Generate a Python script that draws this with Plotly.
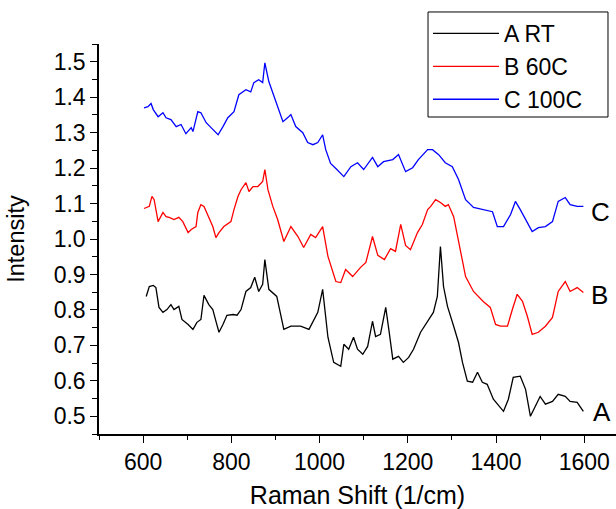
import plotly.graph_objects as go

# Series A (RT)
a_x = [607, 614, 623, 629, 636, 645, 654, 663, 670, 681, 688, 702, 713, 722, 731, 738, 749, 758, 767, 772,
       781, 790, 804, 813, 822, 833, 844, 853, 862, 871, 876, 885, 903, 919, 935, 957, 976, 996, 1007, 1019,
       1032, 1048, 1055, 1066, 1077, 1086, 1098, 1109, 1120, 1127, 1138, 1150, 1157, 1166, 1179, 1190, 1202,
       1213, 1229, 1245, 1258, 1267, 1274, 1281, 1290, 1304, 1315, 1324, 1335, 1347, 1358, 1369, 1380, 1394,
       1417, 1428, 1439, 1455, 1467, 1478, 1489, 1500, 1512, 1528, 1541, 1557, 1568, 1584, 1598]
a_y = [0.838, 0.866, 0.869, 0.863, 0.807, 0.793, 0.801, 0.815, 0.801, 0.810, 0.773, 0.759, 0.745, 0.765, 0.773,
       0.841, 0.815, 0.801, 0.759, 0.737, 0.759, 0.785, 0.787, 0.785, 0.801, 0.852, 0.863, 0.892, 0.852, 0.872,
       0.942, 0.858, 0.838, 0.745, 0.754, 0.754, 0.745, 0.793, 0.858, 0.723, 0.652, 0.641, 0.703, 0.689, 0.723,
       0.689, 0.675, 0.697, 0.768, 0.725, 0.731, 0.807, 0.745, 0.661, 0.669, 0.652, 0.666, 0.689, 0.737, 0.768,
       0.793, 0.838, 0.979, 0.866, 0.810, 0.754, 0.708, 0.652, 0.599, 0.596, 0.624, 0.596, 0.590, 0.548, 0.514,
       0.548, 0.610, 0.613, 0.576, 0.500, 0.528, 0.556, 0.534, 0.542, 0.562, 0.556, 0.542, 0.539, 0.514]

# Series B (60C)
b_x = [602, 614, 620, 625, 634, 645, 652, 659, 670, 681, 690, 702, 709, 720, 724, 731, 738, 749, 758, 765,
       772, 783, 799, 806, 815, 822, 833, 840, 849, 860, 871, 876, 883, 894, 905, 919, 935, 951, 964, 980,
       991, 1007, 1019, 1037, 1048, 1059, 1075, 1093, 1105, 1120, 1132, 1147, 1161, 1172, 1184, 1195, 1206,
       1222, 1233, 1245, 1252, 1263, 1274, 1285, 1292, 1304, 1315, 1331, 1349, 1371, 1387, 1399, 1410, 1426,
       1437, 1448, 1460, 1471, 1482, 1496, 1512, 1528, 1541, 1557, 1568, 1584, 1598]
b_y = [1.086, 1.092, 1.120, 1.111, 1.049, 1.075, 1.063, 1.061, 1.055, 1.061, 1.049, 1.018, 1.027, 1.035, 1.075,
       1.097, 1.092, 1.061, 1.035, 1.004, 1.018, 1.035, 1.049, 1.083, 1.120, 1.139, 1.159, 1.134, 1.148, 1.148,
       1.162, 1.196, 1.139, 1.092, 1.055, 0.993, 1.035, 1.007, 0.976, 1.013, 1.004, 1.035, 0.951, 0.880, 0.877,
       0.914, 0.894, 0.920, 0.934, 1.007, 0.954, 0.942, 0.973, 0.965, 1.041, 0.982, 0.970, 1.018, 1.041, 1.083,
       1.092, 1.111, 1.103, 1.092, 1.097, 1.063, 0.990, 0.894, 0.852, 0.824, 0.807, 0.759, 0.754, 0.754, 0.801,
       0.844, 0.824, 0.782, 0.731, 0.737, 0.754, 0.779, 0.852, 0.880, 0.852, 0.863, 0.849]

# Series C (100C)
c_x = [602, 611, 618, 623, 634, 645, 652, 663, 675, 686, 697, 709, 713, 724, 731, 743, 754, 770, 781, 792,
       806, 817, 833, 844, 851, 862, 871, 876, 885, 901, 917, 930, 935, 946, 962, 973, 985, 996, 1007, 1014,
       1025, 1037, 1055, 1071, 1086, 1100, 1120, 1132, 1145, 1166, 1179, 1195, 1211, 1224, 1245, 1256, 1270,
       1285, 1301, 1315, 1331, 1349, 1371, 1392, 1403, 1417, 1433, 1444, 1455, 1471, 1482, 1496, 1512, 1528,
       1541, 1557, 1568, 1584, 1598]
c_y = [1.370, 1.373, 1.382, 1.365, 1.345, 1.356, 1.342, 1.337, 1.317, 1.323, 1.297, 1.314, 1.303, 1.359, 1.356,
       1.328, 1.314, 1.294, 1.317, 1.342, 1.359, 1.407, 1.421, 1.415, 1.441, 1.449, 1.441, 1.497, 1.444, 1.387,
       1.331, 1.345, 1.351, 1.317, 1.300, 1.272, 1.266, 1.272, 1.294, 1.252, 1.213, 1.199, 1.176, 1.204, 1.215,
       1.196, 1.230, 1.204, 1.218, 1.224, 1.238, 1.190, 1.201, 1.224, 1.252, 1.252, 1.238, 1.215, 1.204, 1.168,
       1.111, 1.089, 1.083, 1.077, 1.035, 1.035, 1.069, 1.106, 1.083, 1.046, 1.021, 1.032, 1.035, 1.049, 1.106,
       1.117, 1.097, 1.092, 1.092]

series_names = ["A RT", "B 60C", "C 100C"]
series_colors = ["black", "red", "blue"]
end_labels = ["A", "B", "C"]
end_label_x = [1640, 1634, 1637]
end_label_y = [0.512, 0.843, 1.075]

FONT = "Liberation Sans, Arial, Helvetica, sans-serif"

fig = go.Figure()
for i, (xs, ys) in enumerate([(a_x, a_y), (b_x, b_y), (c_x, c_y)]):
    fig.add_trace(go.Scatter(x=xs, y=ys, mode="lines", name=series_names[i],
                             legendgroup=series_names[i],
                             line=dict(color=series_colors[i], width=1.3)))

for lab, lx, ly in zip(end_labels, end_label_x, end_label_y):
    fig.add_annotation(x=lx, y=ly, text=lab, showarrow=False, xanchor="center", yanchor="middle",
                       font=dict(family=FONT, size=26, color="black"))

# legend frame
fig.add_shape(type="rect", xref="paper", yref="paper", x0=0.6364, x1=0.9845, y0=0.8128, y1=1.0821,
              line=dict(color="black", width=1), fillcolor="white", layer="above")

fig.update_layout(
    width=616, height=509,
    margin=dict(l=99, r=0, t=44, b=75),
    plot_bgcolor="white", paper_bgcolor="white",
    font=dict(family=FONT, color="black"),
    legend=dict(x=0.6364, y=1.082, xanchor="left", yanchor="top",
                borderwidth=0, bgcolor="rgba(0,0,0,0)",
                font=dict(family=FONT, size=23, color="black"),
                tracegroupgap=0, itemwidth=66),
    xaxis=dict(range=[500, 1672], showgrid=False, zeroline=False,
               showline=True, linecolor="black", linewidth=1.5,
               ticks="outside", ticklen=7, tickwidth=1.3, tickcolor="black",
               tickmode="array", tickvals=[600, 800, 1000, 1200, 1400, 1600],
               tickfont=dict(family=FONT, size=23),
               minor=dict(tickmode="array", tickvals=[500, 700, 900, 1100, 1300, 1500],
                          ticks="outside", ticklen=4, tickwidth=1.3, tickcolor="black"),
               title=dict(text="Raman Shift (1/cm)", font=dict(family=FONT, size=25), standoff=14)),
    yaxis=dict(range=[0.45, 1.55], showgrid=False, zeroline=False,
               showline=True, linecolor="black", linewidth=1.5,
               ticks="outside", ticklen=7, tickwidth=1.3, tickcolor="black",
               tick0=0.5, dtick=0.1, tickformat=".1f",
               tickfont=dict(family=FONT, size=23),
               minor=dict(dtick=0.05, ticks="outside", ticklen=5, tickwidth=1.3, tickcolor="black"),
               title=dict(text="Intensity", font=dict(family=FONT, size=23.5), standoff=22)),
)

# remove the default page margin so the 616x509 figure fills the window exactly
fig.write_html("out.html", config={"displayModeBar": False},
               post_script="document.body.style.margin='0px';")
